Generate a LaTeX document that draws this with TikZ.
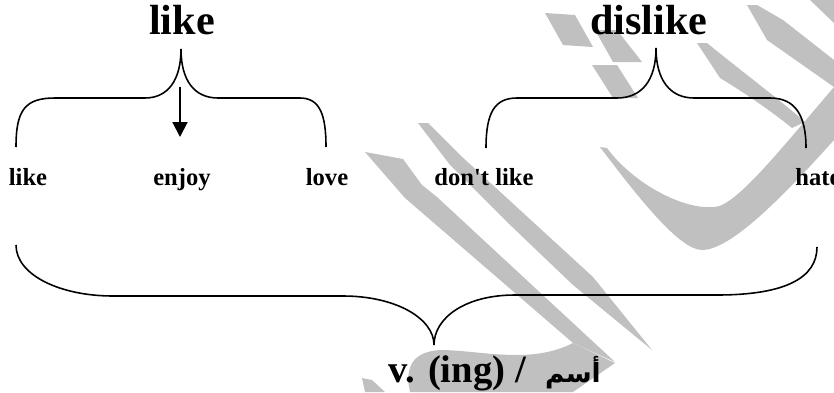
\documentclass[tikz,border=0pt]{standalone}
\usepackage{fontspec}
\setmainfont{Liberation Serif}
\newfontfamily\arabicfont[Script=Arabic]{DejaVu Sans}
\TeXXeTstate=1
\usetikzlibrary{arrows.meta}
\definecolor{wmgray}{RGB}{192,192,192}

\begin{document}
\begin{tikzpicture}[x=0.02cm, y=-0.02cm,
    brace/.style={line width=0.9pt, black},
    title/.style={font=\fontsize{24}{28}\selectfont\bfseries, inner sep=0pt, anchor=base},
    word/.style={font=\fontsize{14}{17}\selectfont\bfseries, inner sep=0pt, anchor=base}]
\useasboundingbox (0,0) rectangle (834,392);

% Watermark strokes (grey)
\fill[wmgray] (545,13) -- (575,15) -- (593,47) -- (563,45) -- cycle;
\fill[wmgray] (595,30) -- (617,30) -- (642,62) -- (613,62) -- cycle;
\fill[wmgray] (592,65) -- (617,65) -- (638,98) -- (613,98) -- cycle;
\fill[wmgray] (365,152) -- (403,159) -- (422,185) -- (437,197) -- (615,362)
  -- (573,343) -- (405,198) -- cycle;
\fill[wmgray] (410,392) .. controls (405,370) and (410,352) .. (440,350)
  .. controls (480,350) and (530,365) .. (573,343) -- (615,363) -- (573,392) -- cycle;
\fill[wmgray] (418,123) -- (428,123) -- (460,155) -- (593,277) -- (652,350)
  -- (573,285) -- (507,222) -- (450,165) -- cycle;
\fill[wmgray] (600,147) .. controls (640,200) and (680,250) .. (702,250)
  .. controls (730,250) and (780,200) .. (834,140) -- (834,87)
  .. controls (780,150) and (735,207) .. (714,207)
  .. controls (680,210) and (630,180) .. (607,148) -- cycle;
\fill[wmgray] (697,43) -- (707,43) .. controls (740,70) and (780,100) .. (805,122)
  -- (792,128) .. controls (770,110) and (740,90) .. (720,78) -- cycle;
\fill[wmgray] (747,5) -- (757,5) -- (783,20) -- (834,60) -- (834,87) -- (767,40) -- cycle;
\fill[wmgray] (810,0) -- (834,0) -- (834,23) -- cycle;
\fill[wmgray] (362,378) -- (372,380) -- (385,392) -- (365,392) -- cycle;

% Titles
\node[title] (like)    at (182,34) {like};
\node[title] (dislike) at (649,34) {dislike};

% Words under the braces
\node[word] (wLike)     at (28,185)  {like};
\node[word] (wEnjoy)    at (182,185) {enjoy};
\node[word] (wLove)     at (327,185) {love};
\node[word] (wDontlike) at (484,185) {don\textquotesingle t like};
\node[word, anchor=base west] (wHate) at (795,185) {hate};

% Result
\node[font=\fontsize{22}{26}\selectfont\bfseries, inner sep=0pt, anchor=base west] (result) at (388,382)
  {v. (ing) /~~{\arabicfont\fontsize{15}{18}\selectfont\beginR أسم\endR}};

% Brace ends
\coordinate (likeL)  at (16,147);
\coordinate (likeT)  at (181,49);
\coordinate (likeR)  at (326,147);
\coordinate (disL)   at (486,148);
\coordinate (disT)   at (656,48);
\coordinate (disR)   at (806,148);
\coordinate (allL)   at (16,245);
\coordinate (allT)   at (434,345);
\coordinate (allR)   at (817,247);

% Brace for like
\draw[brace] (likeL) .. controls (16,110) and (25,98) .. (55,98) -- (145,98)
  .. controls (168,98) and (181,80) .. (likeT)
  .. controls (181,80) and (194,98) .. (218,98) -- (300,98)
  .. controls (320,98) and (326,115) .. (likeR);

% Brace for dislike
\draw[brace] (disL) .. controls (486,112) and (495,98) .. (517,98) -- (617,98)
  .. controls (642,98) and (656,80) .. (disT)
  .. controls (656,80) and (670,98) .. (694,98) -- (770,98)
  .. controls (795,98) and (806,115) .. (disR);

% Brace for all
\draw[brace] (allL) .. controls (16,275) and (60,296) .. (113,296) -- (343,296)
  .. controls (395,296) and (434,318) .. (allT)
  .. controls (434,318) and (465,295) .. (515,295) -- (717,295)
  .. controls (785,295) and (817,278) .. (allR);

% Arrow to enjoy
\coordinate (arrS) at (180,87);
\coordinate (arrE) at (180,137);
\draw[line width=1.1pt, -{Triangle[length=8.5pt, width=8.5pt]}] (arrS) -- (arrE);

\end{tikzpicture}
\end{document}
